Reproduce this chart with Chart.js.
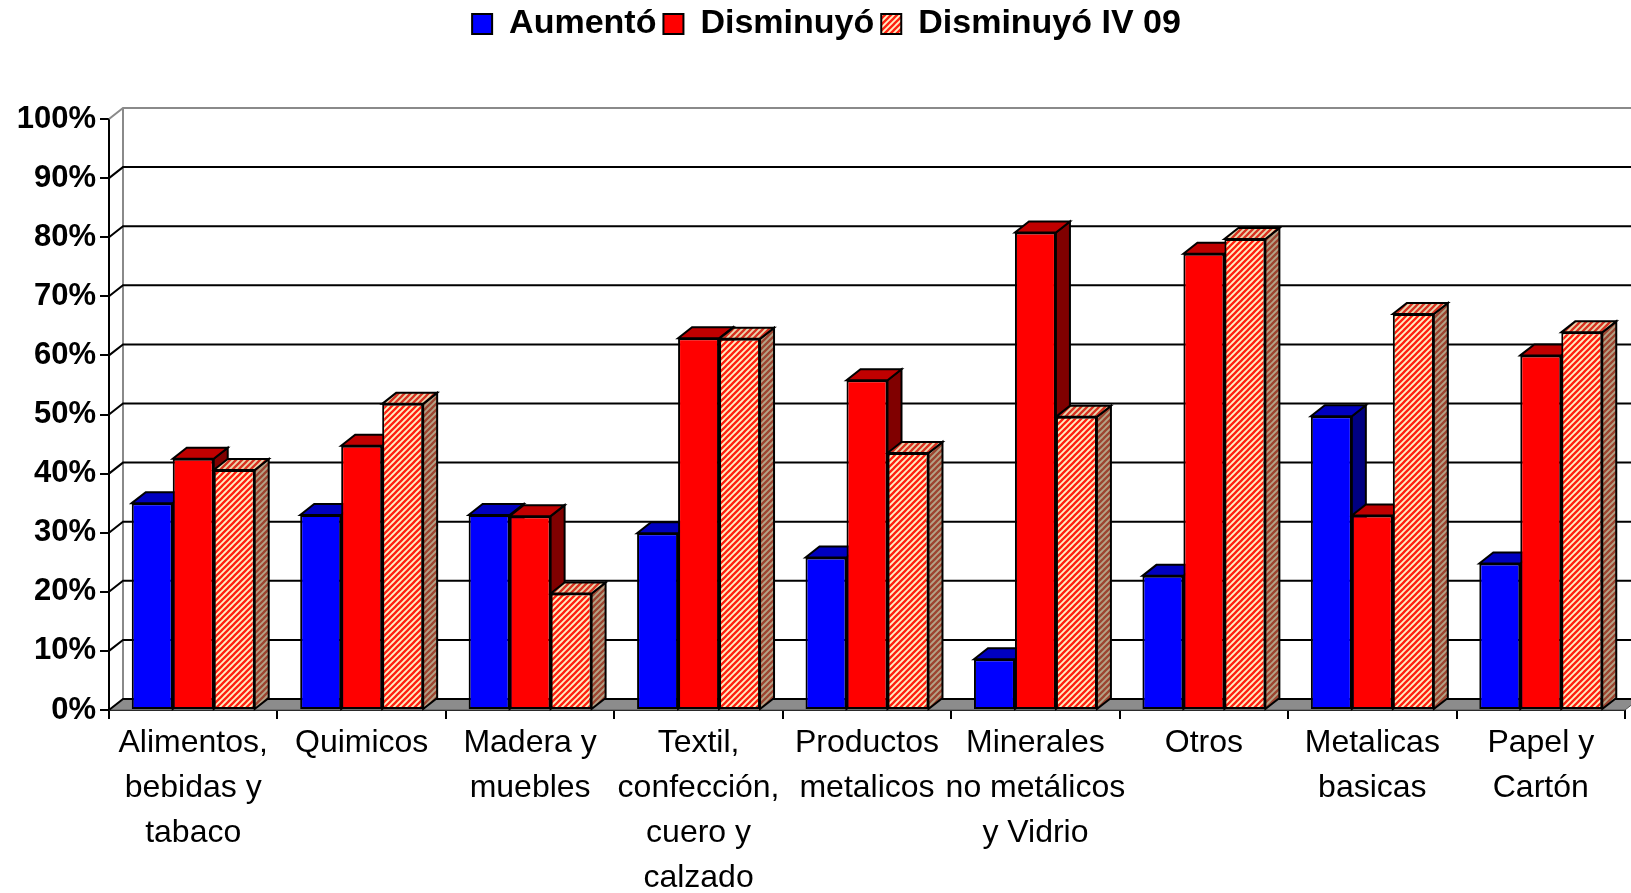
<!DOCTYPE html>
<html>
<head>
<meta charset="utf-8">
<script src="https://cdn.jsdelivr.net/npm/chart.js@4.4.0/dist/chart.umd.min.js"></script>
<style>
  html, body { margin: 0; padding: 0; background: #fff; overflow: hidden; }
</style>
</head>
<body>
<canvas id="grafico" width="1631" height="893"></canvas>
<script>
// Datos (porcentaje de empresas)
const categorias = [
    ["Alimentos,", "bebidas y", "tabaco"],
    ["Quimicos"],
    ["Madera y", "muebles"],
    ["Textil,", "confección,", "cuero y", "calzado"],
    ["Productos", "metalicos"],
    ["Minerales", "no metálicos", "y Vidrio"],
    ["Otros"],
    ["Metalicas", "basicas"],
    ["Papel y", "Cartón"]
];
const aumento       = [35.0, 33.0, 33.0, 29.9, 25.8, 8.6, 22.7, 49.7, 24.8];
const disminuyo     = [42.5, 44.7, 32.8, 62.9, 55.8, 80.8, 77.2, 32.9, 60.0];
const disminuyoIV09 = [40.6, 51.8, 19.7, 62.8, 43.5, 49.6, 79.7, 67.0, 63.9];
const yTicks = [0, 10, 20, 30, 40, 50, 60, 70, 80, 90, 100];

Chart.defaults.font.family = "'Liberation Sans', Arial, sans-serif";
Chart.defaults.color = '#000';

// profundidad del efecto 3D
const DX = 14, DY = 11;

// rayado diagonal tipo Excel
function rayado(c1, c2) {
    const s = 6;
    const cv = document.createElement('canvas');
    cv.width = s; cv.height = s;
    const g = cv.getContext('2d');
    g.fillStyle = c2;
    g.fillRect(0, 0, s, s);
    g.strokeStyle = c1;
    g.lineWidth = 2.3;
    g.beginPath();
    g.moveTo(-1, s + 1); g.lineTo(s + 1, -1);
    g.moveTo(-1, 1); g.lineTo(1, -1);
    g.moveTo(s - 1, s + 1); g.lineTo(s + 1, s - 1);
    g.stroke();
    return g.createPattern(cv, 'repeat');
}

const caras = [
    { top: '#0000c0', side: '#000080' },
    { top: '#c00000', side: '#800000' },
    { top: rayado('#d83020', '#ead8b0'), side: rayado('#9c4430', '#b4a488') }
];

function poligono(ctx, pts) {
    ctx.beginPath();
    ctx.moveTo(pts[0][0], pts[0][1]);
    for (let i = 1; i < pts.length; i++) ctx.lineTo(pts[i][0], pts[i][1]);
    ctx.closePath();
}

const efecto3d = {
    id: 'efecto3d',
    beforeLayout(chart) {
        if (chart.legend && !chart.legend._parcheado) {
            const orig = chart.legend.fit;
            chart.legend.fit = function () { orig.call(this); this.height = 119; };
            chart.legend._parcheado = true;
        }
    },
    afterLayout(chart) {
        chart.legend.left += 14;
        chart.legend.right += 14;
    },
    beforeDatasetsDraw(chart) {
        const ctx = chart.ctx, a = chart.chartArea, ys = chart.scales.y;
        ctx.save();

        // piso
        poligono(ctx, [[a.left, a.bottom], [a.left + DX, a.bottom - DY], [a.right + DX, a.bottom - DY], [a.right, a.bottom]]);
        ctx.fillStyle = '#8c8c8c';
        ctx.fill();
        ctx.strokeStyle = '#555';
        ctx.lineWidth = 1;
        ctx.stroke();

        // pared del fondo
        ctx.lineWidth = 2;
        ctx.strokeStyle = '#8a8a8a';
        ctx.beginPath();
        ctx.moveTo(a.left + DX, a.top - DY);
        ctx.lineTo(a.left + DX, a.bottom - DY);
        ctx.stroke();

        yTicks.forEach(v => {
            const py = ys.getPixelForValue(v);
            ctx.strokeStyle = v === 100 ? '#8a8a8a' : '#000';
            ctx.beginPath();
            ctx.moveTo(a.left, py);
            ctx.lineTo(a.left + DX, py - DY);
            ctx.lineTo(a.right + DX, py - DY);
            ctx.stroke();
        });

        // caras superior y lateral de cada barra
        ctx.lineWidth = 2;
        ctx.strokeStyle = '#000';
        ctx.lineJoin = 'miter';
        const n = chart.data.labels.length;
        for (let i = 0; i < n; i++) {
            chart.data.datasets.forEach((ds, d) => {
                const el = chart.getDatasetMeta(d).data[i];
                const p = el.getProps(['x', 'y', 'width', 'base'], true);
                const l = p.x - p.width / 2, r = p.x + p.width / 2;
                const t = p.y, b = p.base;
                poligono(ctx, [[r, t], [r + DX, t - DY], [r + DX, b - DY], [r, b]]);
                ctx.fillStyle = caras[d].side;
                ctx.fill();
                ctx.stroke();
                poligono(ctx, [[l, t], [l + DX, t - DY], [r + DX, t - DY], [r, t]]);
                ctx.fillStyle = caras[d].top;
                ctx.fill();
                ctx.stroke();
            });
        }
        ctx.restore();
    }
};

const baseBarra = {
    borderColor: '#000',
    borderWidth: 2,
    borderSkipped: false,
    categoryPercentage: 0.73,
    barPercentage: 1.0
};

new Chart(document.getElementById('grafico'), {
    type: 'bar',
    data: {
        labels: categorias,
        datasets: [
            { ...baseBarra, label: 'Aumentó', data: aumento, backgroundColor: '#0000ff' },
            { ...baseBarra, label: 'Disminuyó', data: disminuyo, backgroundColor: '#ff0000' },
            { ...baseBarra, label: 'Disminuyó IV 09', data: disminuyoIV09, backgroundColor: rayado('#ff2010', '#fff0c4') }
        ]
    },
    options: {
        responsive: false,
        animation: false,
        devicePixelRatio: 1,
        layout: { padding: { left: 0, right: 6, top: 0, bottom: 0 } },
        plugins: {
            legend: {
                position: 'top',
                labels: {
                    boxWidth: 20,
                    boxHeight: 20,
                    padding: 7,
                    color: '#000',
                    font: { size: 34, weight: 'bold' }
                }
            },
            tooltip: { enabled: false }
        },
        scales: {
            x: {
                grid: { display: true, drawOnChartArea: false, drawTicks: true, tickLength: 9, color: '#000', lineWidth: 2, offset: true },
                border: { display: true, color: '#000', width: 2 },
                ticks: { color: '#000', padding: 2, maxRotation: 0, autoSkip: false, font: { size: 32, lineHeight: 1.406 } },
                afterFit(s) { s.height = 183; }
            },
            y: {
                min: 0,
                max: 100,
                afterBuildTicks(s) { s.ticks = yTicks.map(v => ({ value: v })); },
                grid: { drawOnChartArea: false, drawTicks: true, tickLength: 9, color: '#000', lineWidth: 2 },
                border: { display: true, color: '#000', width: 2 },
                ticks: { color: '#000', padding: 4, font: { size: 31, weight: 'bold' }, callback: v => v + '%' },
                afterFit(s) { s.width = 109; }
            }
        }
    },
    plugins: [efecto3d]
});
</script>
</body>
</html>
